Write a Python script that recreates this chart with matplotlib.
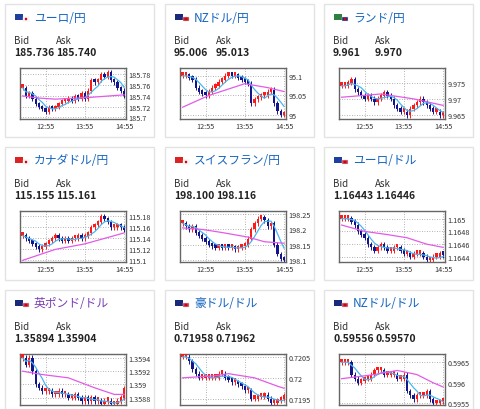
import matplotlib
matplotlib.use("Agg")
import matplotlib.pyplot as plt
from matplotlib.patches import Rectangle, Circle
import numpy as np
import pandas as pd

plt.rcParams['font.family'] = ['Noto Sans CJK JP', 'DejaVu Sans']

W, H = 480, 410

titles = ["ユーロ/円", "NZドル/円", "ランド/円",
          "カナダドル/円", "スイスフラン/円", "ユーロ/ドル",
          "英ポンド/ドル", "豪ドル/ドル", "NZドル/ドル"]
bids = ["185.736", "95.006", "9.961", "115.155", "198.100", "1.16443",
        "1.35894", "0.71958", "0.59556"]
asks = ["185.740", "95.013", "9.970", "115.161", "198.116", "1.16446",
        "1.35904", "0.71962", "0.59570"]
time_labels = ["12:55", "13:55", "14:55"]
time_pos = [7, 19, 31]

closes = [
    [185.755, 185.74, 185.745, 185.735, 185.725, 185.72, 185.715, 185.71, 185.72, 185.715, 185.72,
     185.725, 185.73, 185.73, 185.735, 185.73, 185.74, 185.735, 185.745, 185.735, 185.75, 185.77,
     185.765, 185.77, 185.78, 185.775, 185.785, 185.77, 185.765, 185.755, 185.75, 185.74],
    [95.10, 95.10, 95.095, 95.09, 95.07, 95.06, 95.055, 95.05, 95.06, 95.07, 95.075, 95.085,
     95.09, 95.10, 95.105, 95.10, 95.10, 95.095, 95.09, 95.085, 95.08, 95.03, 95.04, 95.045,
     95.05, 95.05, 95.06, 95.065, 95.03, 95.01, 95.0, 95.005],
    [9.974, 9.974, 9.975, 9.976, 9.973, 9.972, 9.971, 9.970, 9.971, 9.970, 9.969, 9.970, 9.971,
     9.972, 9.971, 9.970, 9.968, 9.967, 9.966, 9.966, 9.965, 9.967, 9.968, 9.969, 9.970, 9.969,
     9.968, 9.967, 9.966, 9.966, 9.965, 9.9655],
    [115.145, 115.14, 115.135, 115.13, 115.125, 115.12, 115.125, 115.13, 115.135, 115.14, 115.145,
     115.14, 115.135, 115.14, 115.135, 115.14, 115.14, 115.145, 115.14, 115.145, 115.15, 115.16,
     115.165, 115.17, 115.18, 115.175, 115.17, 115.16, 115.16, 115.165, 115.16, 115.155],
    [198.22, 198.21, 198.20, 198.21, 198.19, 198.18, 198.17, 198.16, 198.15, 198.145, 198.14,
     198.145, 198.14, 198.145, 198.14, 198.14, 198.135, 198.14, 198.145, 198.15, 198.17, 198.20,
     198.22, 198.235, 198.24, 198.23, 198.21, 198.22, 198.15, 198.12, 198.105, 198.10],
    [1.1650, 1.1650, 1.1650, 1.16495, 1.1649, 1.1648, 1.16475, 1.1647, 1.1646, 1.16455, 1.1645,
     1.16455, 1.1646, 1.16455, 1.1645, 1.1645, 1.16455, 1.16455, 1.1645, 1.16445, 1.16445, 1.1644,
     1.16445, 1.16445, 1.16445, 1.1644, 1.16435, 1.16435, 1.1644, 1.1644, 1.16445, 1.16443],
    [1.3594, 1.3593, 1.3594, 1.3592, 1.3590, 1.35895, 1.3589, 1.3589, 1.3589, 1.35885, 1.35885,
     1.3589, 1.35885, 1.35885, 1.3588, 1.3588, 1.35885, 1.3588, 1.35875, 1.3588, 1.35875, 1.3588,
     1.35875, 1.35875, 1.3587, 1.35875, 1.35875, 1.3587, 1.3587, 1.35875, 1.3588, 1.35894],
    [0.7205, 0.7205, 0.7204, 0.7202, 0.7201, 0.7200, 0.7200, 0.7200, 0.7200, 0.7200, 0.7200,
     0.7201, 0.7201, 0.7200, 0.71995, 0.7199, 0.7199, 0.71985, 0.7198, 0.7197, 0.7197, 0.7195,
     0.7195, 0.71955, 0.71955, 0.7196, 0.7195, 0.7194, 0.7194, 0.71945, 0.7195, 0.71958],
    [0.5965, 0.5965, 0.5965, 0.5962, 0.5961, 0.5960, 0.59605, 0.5961, 0.5961, 0.5962, 0.5963,
     0.5963, 0.5963, 0.5962, 0.5962, 0.5962, 0.5962, 0.5961, 0.5961, 0.5962, 0.5958, 0.5957,
     0.5956, 0.5957, 0.5957, 0.5957, 0.5958, 0.5956, 0.5955, 0.5955, 0.59555, 0.59556],
]
wicks = [0.004, 0.006, 0.0008, 0.004, 0.008, 0.00004, 0.00004, 0.00006, 0.00006]

# long moving average (magenta), read at a few points
ma_x = [
    [0, 5, 10, 20, 31], [0, 8, 19, 26, 31], [0, 12, 22, 31], [0, 10, 19, 25, 31],
    [0, 6, 12, 20, 25, 31], [0, 7, 14, 20, 26, 31], [0, 6, 14, 22, 28, 31],
    [0, 10, 14, 22, 29, 31], [0, 10, 17, 23, 28, 31],
]
ma_y = [
    [185.740, 185.736, 185.734, 185.737, 185.742], [95.02, 95.05, 95.08, 95.07, 95.06],
    [9.9705, 9.9715, 9.970, 9.968], [115.10, 115.12, 115.13, 115.14, 115.15],
    [198.205, 198.20, 198.19, 198.175, 198.16, 198.155],
    [1.1649, 1.1648, 1.16475, 1.1647, 1.1646, 1.16455],
    [1.3592, 1.35915, 1.3591, 1.35895, 1.35885, 1.35885],
    [0.7200, 0.72005, 0.7201, 0.7200, 0.7198, 0.71975],
    [0.5961, 0.5962, 0.5963, 0.5962, 0.5960, 0.5959],
]
yticks = [
    [185.7, 185.72, 185.74, 185.76, 185.78], [95.0, 95.05, 95.1], [9.965, 9.97, 9.975],
    [115.1, 115.12, 115.14, 115.16, 115.18], [198.1, 198.15, 198.2, 198.25],
    [1.1644, 1.1646, 1.1648, 1.165], [1.3588, 1.359, 1.3592, 1.3594],
    [0.7195, 0.72, 0.7205], [0.5955, 0.596, 0.5965],
]
ytick_labels = [
    ["185.7", "185.72", "185.74", "185.76", "185.78"], ["95", "95.05", "95.1"],
    ["9.965", "9.97", "9.975"], ["115.1", "115.12", "115.14", "115.16", "115.18"],
    ["198.1", "198.15", "198.2", "198.25"], ["1.1644", "1.1646", "1.1648", "1.165"],
    ["1.3588", "1.359", "1.3592", "1.3594"], ["0.7195", "0.72", "0.7205"],
    ["0.5955", "0.596", "0.5965"],
]
ylims = [(185.697, 185.792), (94.99, 95.12), (9.9638, 9.9795), (115.097, 115.19),
         (198.094, 198.26), (1.16432, 1.16512), (1.35869, 1.35946), (0.71935, 0.72057),
         (0.59546, 0.5967)]
flag_cols = [("#1f3f9f", "#ffffff"), ("#1a2a7a", "#cc2222"), ("#2f7f3f", "#1a2a7a"),
             ("#dd2222", "#ffffff"), ("#dd2222", "#ffffff"), ("#1f3f9f", "#cc3344"),
             ("#1a2a7a", "#cc3344"), ("#1a2a7a", "#cc3344"), ("#1a2a7a", "#cc3344")]

fig = plt.figure(figsize=(W / 100, H / 100), dpi=100)
fig.patch.set_facecolor("white")
bg = fig.add_axes([0, 0, 1, 1])
bg.set_xlim(0, W)
bg.set_ylim(H, 0)
bg.axis("off")

card_x = [5, 165, 324]
card_y = [5, 148, 291]
for i in range(9):
    cx, cy = card_x[i % 3], card_y[i // 3]
    bg.add_patch(Rectangle((cx, cy), 149, 133, fc="white", ec="#e3e3e3", lw=1))
    f1, f2 = flag_cols[i]
    bg.add_patch(Rectangle((cx + 10, cy + 10), 8, 6, fc=f1, ec="none"))
    bg.add_patch(Rectangle((cx + 18, cy + 13), 6, 4, fc=f2, ec="#dddddd", lw=0.3))
    bg.add_patch(Circle((cx + 21, cy + 15), 1.3, fc="#d0021b", ec="none"))
    tcol = "#7b3fb5" if i == 6 else "#1565c0"
    bg.text(cx + 29, cy + 13, titles[i], color=tcol, fontsize=8.5, va="center", ha="left")
    bg.text(cx + 9, cy + 36, "Bid", fontsize=7, color="#333333", va="center")
    bg.text(cx + 51, cy + 36, "Ask", fontsize=7, color="#333333", va="center")
    bg.text(cx + 9, cy + 48, bids[i], fontsize=7.5, fontweight="bold", color="#222222", va="center")
    bg.text(cx + 51, cy + 48, asks[i], fontsize=7.5, fontweight="bold", color="#222222", va="center")

    # chart axes in pixel coordinates
    ax_l, ax_t, ax_w, ax_h = cx + 15, cy + 64, 106, 51
    ax = fig.add_axes([ax_l / W, 1 - (ax_t + ax_h) / H, ax_w / W, ax_h / H])
    c = np.array(closes[i])
    o = np.concatenate([[c[0]], c[:-1]])
    x = np.arange(len(c))
    hi = np.maximum(o, c) + wicks[i]
    lo = np.minimum(o, c) - wicks[i]
    up = c >= o
    cols = np.where(up, "#ff1a1a", "#14148c")
    ax.vlines(x, lo, hi, colors=cols, lw=0.7, zorder=2)
    body = np.maximum(np.abs(c - o), (ylims[i][1] - ylims[i][0]) * 0.07)
    ax.bar(x, body, bottom=np.minimum(o, c), width=0.72, color=cols, zorder=3)
    ma5 = pd.Series(c).rolling(5, min_periods=1).mean()
    ax.plot(x, ma5, color="#49b6f0", lw=0.9, zorder=4)
    ax.plot(ma_x[i], ma_y[i], color="#e45ae8", lw=0.9, zorder=4)
    ax.set_xlim(-0.8, 31.6)
    ax.set_ylim(*ylims[i])
    ax.set_yticks(yticks[i])
    ax.set_yticklabels(ytick_labels[i])
    ax.set_xticks(time_pos)
    ax.set_xticklabels(time_labels)
    ax.yaxis.tick_right()
    ax.tick_params(length=0, labelsize=5.2, colors="#333333", pad=2)
    ax.grid(True, ls=(0, (1, 2)), color="#999999", lw=0.6)
    for s in ax.spines.values():
        s.set_color("#666666")
        s.set_linewidth(1)

fig.savefig("out.png", dpi=100)
